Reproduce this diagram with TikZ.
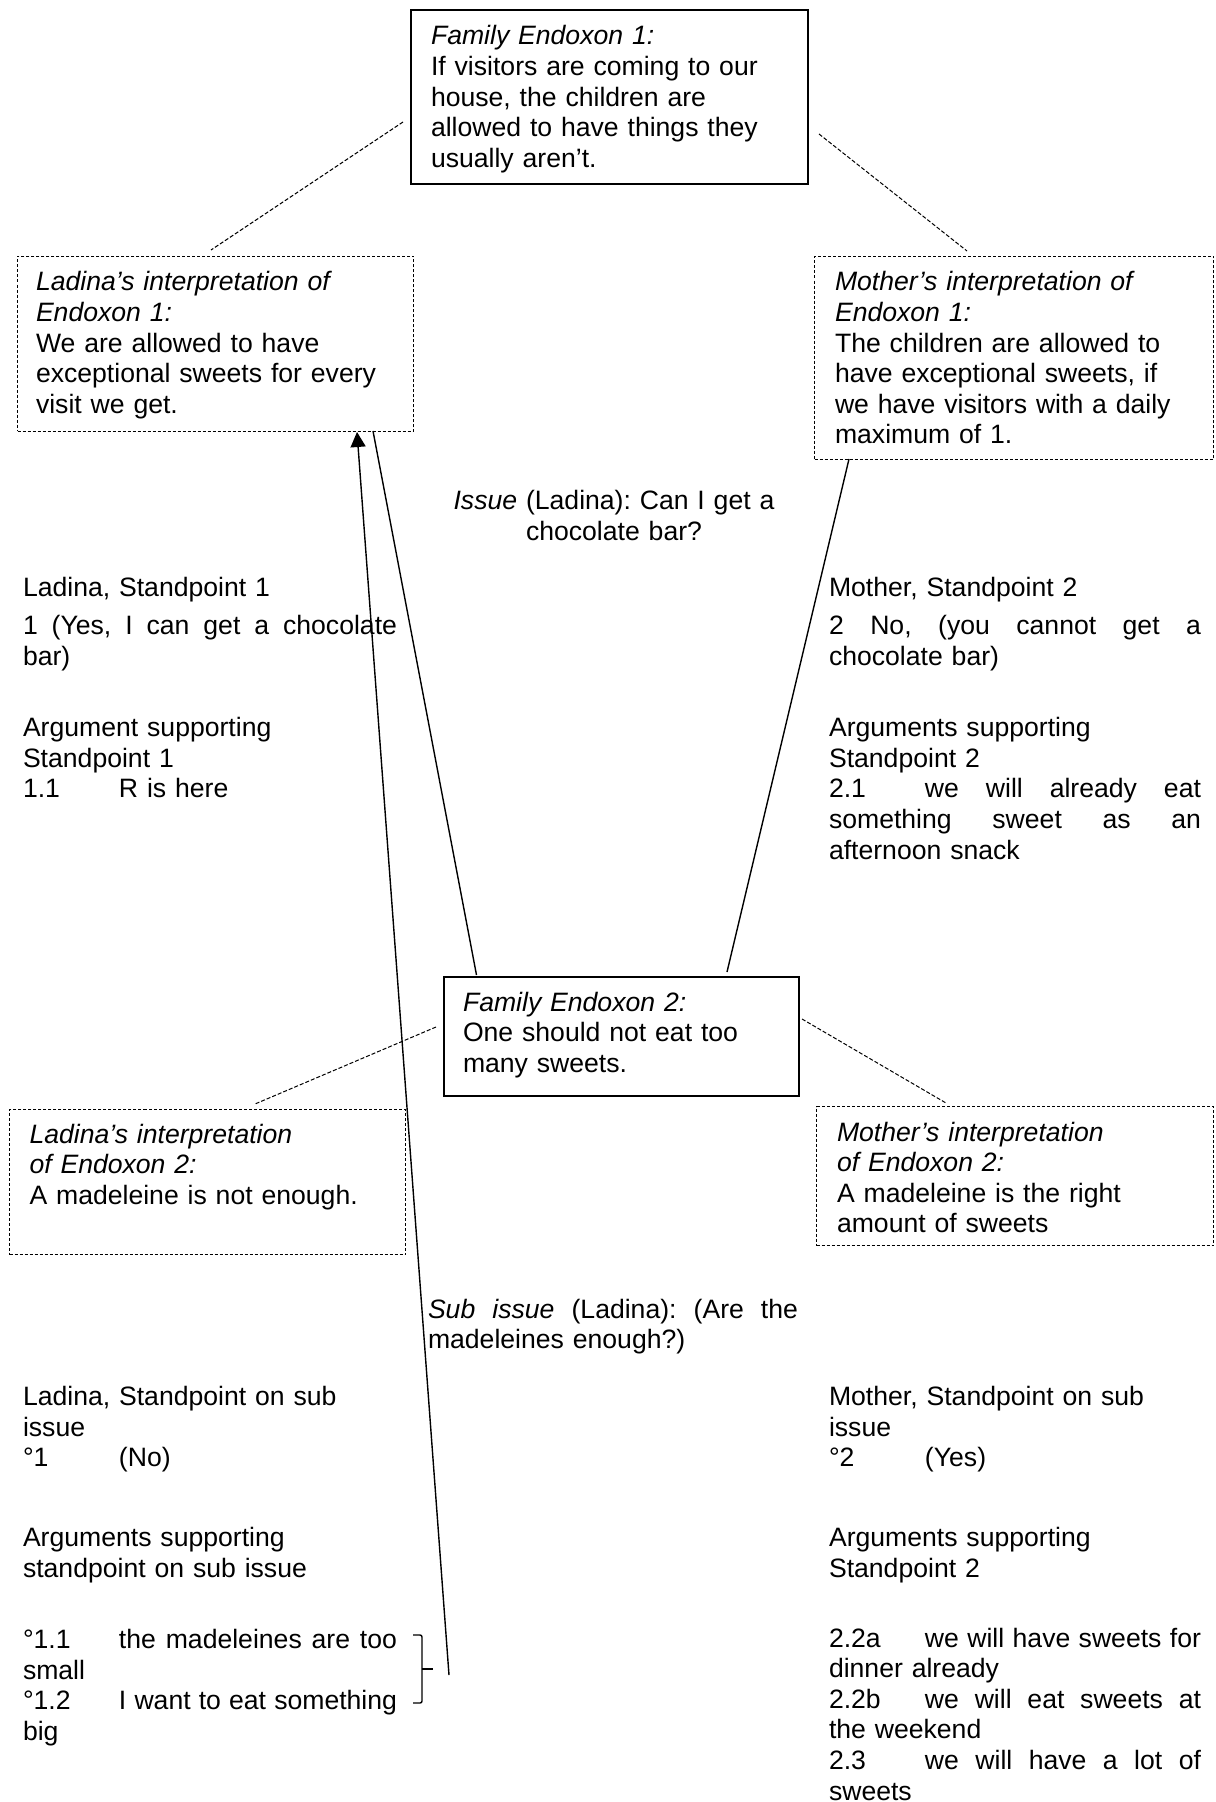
\documentclass[tikz,border=0pt]{standalone}
\usepackage{fontspec}
\setmainfont{Liberation Sans}
\usetikzlibrary{arrows.meta}
\newcommand\fs{\fontsize{13.3pt}{15.3pt}\selectfont\frenchspacing}
\newcommand\tb[1]{\makebox[48pt][l]{#1}}
\newcommand\jl[2]{\leavevmode\hbox to #1{\spaceskip=0.278em plus 1fil\xspaceskip=0.278em plus 1fil\relax #2}}
\tikzset{
  txt/.style={font=\fs, inner sep=0pt, outer sep=0pt, align=left, anchor=base west, text width=#1},
  txt/.default=200pt,
  solidbox/.style={draw, line width=0.8pt, inner sep=0pt, anchor=north west},
  dbox/.style={draw, line width=0.5pt, dash pattern=on 1.5pt off 1pt, inner sep=0pt, anchor=north west},
  dline/.style={line width=0.5pt, dash pattern=on 2pt off 1pt},
  sline/.style={line width=0.7pt},
}
\begin{document}
\begin{tikzpicture}[x=0.5pt, y=-0.5pt]
\useasboundingbox (0,0) rectangle (1215,1802);
\fill[white] (0,0) rectangle (1215,1802);

% ---- boxes ----
\node[solidbox, minimum width=198.5pt, minimum height=87pt] (e1) at (410,9) {};
\node[dbox, minimum width=198pt, minimum height=87.5pt] (l1) at (17,256) {};
\node[dbox, minimum width=199.5pt, minimum height=101.5pt] (m1) at (814,256) {};
\node[solidbox, minimum width=177.5pt, minimum height=59.5pt] (e2) at (443,976) {};
\node[dbox, minimum width=198pt, minimum height=72.5pt] (l2) at (9,1109) {};
\node[dbox, minimum width=198.5pt, minimum height=69.5pt] (m2) at (816,1106) {};

% ---- box texts ----
\node[txt] (e1t) at (431,45) {\textit{Family Endoxon 1:}\\If visitors are coming to our\\house, the children are\\allowed to have things they\\usually aren’t.};
\node[txt] (l1t) at (36,291) {\textit{Ladina’s interpretation of}\\\textit{Endoxon 1:}\\We are allowed to have\\exceptional sweets for every\\visit we get.};
\node[txt] (m1t) at (835,291) {\textit{Mother’s interpretation of}\\\textit{Endoxon 1:}\\The children are allowed to\\have exceptional sweets, if\\we have visitors with a daily\\maximum of 1.};
\node[txt] (e2t) at (463,1011) {\textit{Family Endoxon 2:}\\One should not eat too\\many sweets.};
\node[txt] (l2t) at (29.5,1143) {\textit{Ladina’s interpretation}\\\textit{of Endoxon 2:}\\A madeleine is not enough.};
\node[txt] (m2t) at (837,1141) {\textit{Mother’s interpretation}\\\textit{of Endoxon 2:}\\A madeleine is the right\\amount of sweets};

% ---- issues ----
\node[font=\fs, inner sep=0pt, align=center, text width=170pt, anchor=base] (issue) at (614,509.5) {\textit{Issue} (Ladina): Can I get a\\chocolate bar?};
\node[txt] (sub) at (428,1318) {\jl{185pt}{\textit{Sub issue} (Ladina): (Are the}\\madeleines enough?)};

% ---- left column ----
\node[txt] (L1) at (23,596.7) {Ladina, Standpoint 1};
\node[txt] (L2) at (23,634.5) {\jl{187pt}{1 (Yes, I can get a chocolate}\\bar)};
\node[txt] (L3) at (23,736.7) {Argument supporting\\Standpoint 1\\\tb{1.1}R is here};
\node[txt] (L4) at (23,1405.5) {Ladina, Standpoint on sub\\issue\\\tb{°1}(No)};
\node[txt] (L5) at (23,1546.5) {Arguments supporting\\standpoint on sub issue};
\node[txt] (L6) at (23,1648.5) {\tb{°1.1}\jl{139pt}{the madeleines are too}\\small\\\tb{°1.2}\jl{139pt}{I want to eat something}\\big};

% ---- right column ----
\node[txt] (R1) at (829,596.7) {Mother, Standpoint 2};
\node[txt] (R2) at (829,634.5) {\jl{186pt}{2 No, (you cannot get a}\\chocolate bar)};
\node[txt] (R3) at (829,736.7) {Arguments supporting\\Standpoint 2\\\tb{2.1}\jl{138pt}{we will already eat}\\\jl{186pt}{something sweet as an}\\afternoon snack};
\node[txt] (R4) at (829,1405.5) {Mother, Standpoint on sub\\issue\\\tb{°2}(Yes)};
\node[txt] (R5) at (829,1546.5) {Arguments supporting\\Standpoint 2};
\node[txt] (R6) at (829,1647) {\tb{2.2a}\jl{138pt}{we will have sweets for}\\dinner already\\\tb{2.2b}\jl{138pt}{we will eat sweets at}\\the weekend\\\tb{2.3}\jl{138pt}{we will have a lot of}\\sweets};

% ---- connector end points ----
\coordinate (d1a) at (403,122);
\coordinate (d1b) at (211,250);
\coordinate (d2a) at (819,134);
\coordinate (d2b) at (967,251);
\coordinate (d3a) at (436,1027);
\coordinate (d3b) at (255,1104);
\coordinate (d4a) at (802,1019);
\coordinate (d4b) at (946,1103);
\coordinate (s1a) at (476.5,975);
\coordinate (s1b) at (373,431);
\coordinate (s2a) at (727,972);
\coordinate (s2b) at (849,459);
\coordinate (astart) at (449,1675);
\coordinate (atip) at (357,432);

% ---- dashed connectors ----
\draw[dline] (d1a) -- (d1b);
\draw[dline] (d2a) -- (d2b);
\draw[dline] (d3a) -- (d3b);
\draw[dline] (d4a) -- (d4b);

% ---- solid connectors ----
\draw[sline] (s1a) -- (s1b);
\draw[sline] (s2a) -- (s2b);
\draw[sline, -{Triangle[length=7.5pt,width=7.5pt]}] (astart) -- (atip);

% ---- bracket ----
\draw[sline, rounded corners=1pt] (413,1635) -- (422,1635) -- (422,1703) -- (413,1703);
\draw[sline] (422,1669) -- (433,1669);
\end{tikzpicture}
\end{document}
